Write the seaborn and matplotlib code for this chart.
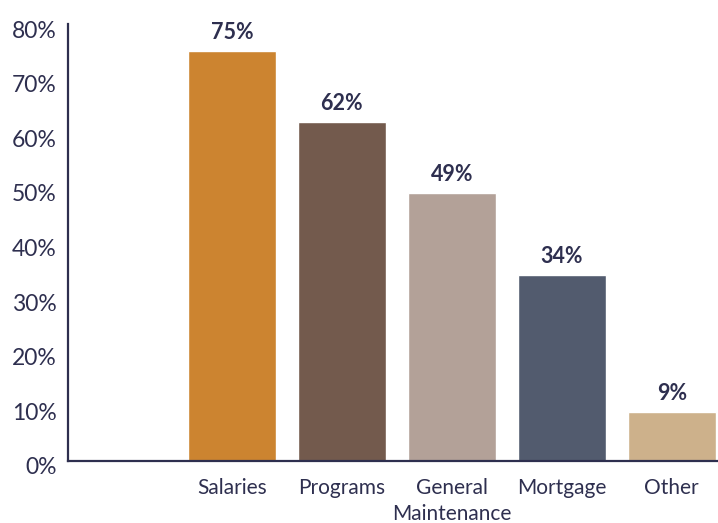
import matplotlib
matplotlib.use("Agg")
import matplotlib.pyplot as plt
import matplotlib.transforms as mtransforms
import seaborn as sns
import pandas as pd
from matplotlib.ticker import PercentFormatter

# data
categories = ["Salaries", "Programs", "General\nMaintenance", "Mortgage", "Other"]
shares = [0.75, 0.62, 0.49, 0.34, 0.09]
bar_colors = ["#CC8430", "#735A4D", "#B3A198", "#525B6E", "#CDB18B"]
y_ticks = [0, 0.1, 0.2, 0.3, 0.4, 0.5, 0.6, 0.7, 0.8]

text_color = "#2E2F4F"

sns.set_theme(style="white")
plt.rcParams['font.family'] = ['Lato', 'DejaVu Sans']

df = pd.DataFrame({"category": categories, "share": shares})

fig = plt.figure(figsize=(7.18, 5.23), dpi=100)
ax = fig.add_axes([68 / 718, 62 / 523, 650 / 718, 437 / 523])

sns.barplot(data=df, x="category", y="share", hue="category",
            palette=bar_colors, legend=False, width=0.8, saturation=1, ax=ax)

# value labels on top of each bar
for container in ax.containers:
    ax.bar_label(container, labels=[f"{v:.0%}" for v in container.datavalues],
                 padding=6, fontsize=15.5, fontweight="bold", color=text_color)

ax.set_xlim(-1.49, 4.42)
ax.set_ylim(0, 0.8)
ax.set_yticks(y_ticks)
ax.yaxis.set_major_formatter(PercentFormatter(1.0, decimals=0))
ax.set_xlabel("")
ax.set_ylabel("")

ax.tick_params(axis="y", length=0, pad=8, labelsize=16.5, labelcolor=text_color)
ax.tick_params(axis="x", length=0, pad=12, labelsize=15, labelcolor=text_color)
for lbl in ax.get_xticklabels():
    lbl.set_linespacing(1.4)

# y labels sit a little below the gridline positions
offset = mtransforms.ScaledTranslation(0, -5 / 100, fig.dpi_scale_trans)
for lbl in ax.get_yticklabels():
    lbl.set_transform(lbl.get_transform() + offset)

for side in ["top", "right"]:
    ax.spines[side].set_visible(False)
for side in ["left", "bottom"]:
    ax.spines[side].set_color(text_color)
    ax.spines[side].set_linewidth(1.6)

fig.savefig("out.png", dpi=100)
